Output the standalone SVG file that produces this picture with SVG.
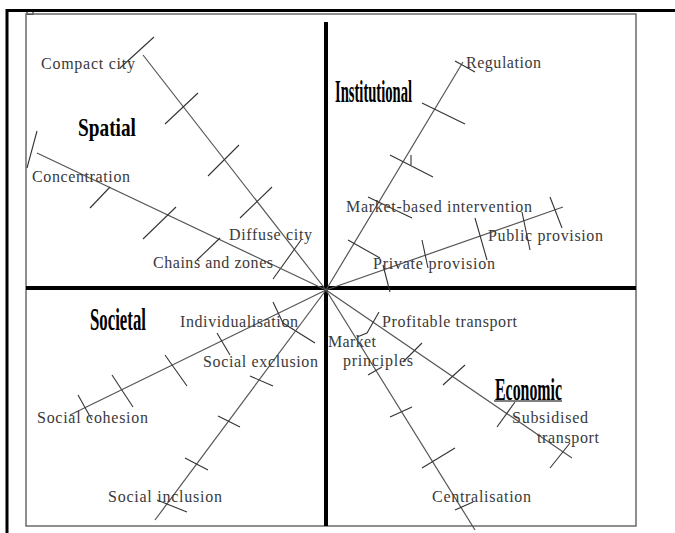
<svg xmlns="http://www.w3.org/2000/svg" width="675" height="533" viewBox="0 0 675 533">
  <style>
    .frame { fill: none; stroke: #000; stroke-width: 3; }
    .box { fill: none; stroke: #6a6a6a; stroke-width: 1.5; }
    .axis { stroke: #000; stroke-width: 4; fill: none; }
    .ray { stroke: #555; stroke-width: 1.2; fill: none; }
    .tick { stroke: #333; stroke-width: 1.1; fill: none; }
    .lbl { font-family: "Liberation Serif", "Times New Roman", serif; font-size: 16px; fill: #3a3a3a; }
    .cat { font-family: "Liberation Serif", "Times New Roman", serif; font-weight: bold; fill: #000; }
  </style>

  <rect width="675" height="533" fill="#fff"/>

  <!-- outer frame -->
  <g id="frame">
    <polyline class="frame" points="7,533 7,10.5 675,10.5"/>
    <rect x="27" y="11" width="6" height="3.5" fill="none" stroke="#000" stroke-width="1"/>
    <rect class="box" x="26" y="14" width="610" height="512"/>
  </g>

  <!-- quadrant axes -->
  <g id="axes">
    <line class="axis" x1="326" y1="22" x2="326" y2="526"/>
    <line class="axis" x1="26" y1="288" x2="636" y2="288"/>
  </g>

  <!-- scale rays with tick marks -->
  <g id="connectors">
    <!-- Compact city -->
    <line class="ray" x1="326" y1="290" x2="143" y2="55"/>
    <line class="tick" x1="120" y1="68" x2="154" y2="37"/>
    <line class="tick" x1="165" y1="124" x2="198" y2="93"/>
    <line class="tick" x1="208" y1="176" x2="239" y2="145"/>
    <line class="tick" x1="240" y1="218" x2="272" y2="187"/>
    <line class="tick" x1="273" y1="279" x2="301" y2="240"/>

    <!-- Concentration -->
    <line class="ray" x1="326" y1="290" x2="37" y2="153"/>
    <line class="tick" x1="37" y1="131" x2="27" y2="168"/>
    <line class="tick" x1="90" y1="208" x2="110" y2="187"/>
    <line class="tick" x1="143" y1="239" x2="176" y2="207"/>
    <line class="tick" x1="197" y1="260" x2="220" y2="238"/>

    <!-- Regulation -->
    <line class="ray" x1="326" y1="290" x2="463" y2="62"/>
    <line class="tick" x1="455" y1="61" x2="475" y2="72"/>
    <line class="tick" x1="422" y1="103" x2="465" y2="124"/>
    <line class="tick" x1="390" y1="155" x2="433" y2="177"/>
    <line class="tick" x1="411" y1="155" x2="411" y2="165"/>
    <line class="tick" x1="368" y1="197" x2="412" y2="218"/>
    <line class="tick" x1="348" y1="240" x2="380" y2="258"/>

    <!-- Public provision -->
    <line class="ray" x1="326" y1="290" x2="563" y2="207"/>
    <line class="tick" x1="550" y1="197" x2="562" y2="228"/>
    <line class="tick" x1="522" y1="212" x2="530" y2="250"/>
    <line class="tick" x1="475" y1="218" x2="487" y2="260"/>
    <line class="tick" x1="422" y1="240" x2="428" y2="268"/>
    <line class="tick" x1="383" y1="265" x2="390" y2="292"/>

    <!-- Social cohesion -->
    <line class="ray" x1="326" y1="290" x2="70" y2="415"/>
    <line class="tick" x1="78" y1="395" x2="92" y2="420"/>
    <line class="tick" x1="112" y1="375" x2="133" y2="407"/>
    <line class="tick" x1="165" y1="355" x2="187" y2="386"/>
    <line class="tick" x1="217" y1="333" x2="230" y2="355"/>
    <polyline class="tick" points="273,302 283,323 315,343"/>

    <!-- Social inclusion -->
    <line class="ray" x1="326" y1="290" x2="155" y2="520"/>
    <line class="tick" x1="157" y1="500" x2="187" y2="512"/>
    <line class="tick" x1="185" y1="458" x2="208" y2="470"/>
    <line class="tick" x1="218" y1="416" x2="240" y2="427"/>
    <line class="tick" x1="250" y1="376" x2="273" y2="386"/>

    <!-- Subsidised transport -->
    <line class="ray" x1="326" y1="290" x2="572" y2="458"/>
    <polyline class="tick" points="379,312 367,333 357,337"/>
    <line class="tick" x1="403" y1="362" x2="422" y2="343"/>
    <line class="tick" x1="443" y1="385" x2="465" y2="365"/>
    <line class="tick" x1="497" y1="427" x2="515" y2="402"/>
    <line class="tick" x1="550" y1="468" x2="570" y2="443"/>

    <!-- Centralisation -->
    <line class="ray" x1="326" y1="290" x2="475" y2="530"/>
    <line class="tick" x1="368" y1="375" x2="382" y2="367"/>
    <line class="tick" x1="390" y1="417" x2="412" y2="407"/>
    <line class="tick" x1="422" y1="468" x2="455" y2="448"/>
    <line class="tick" x1="455" y1="510" x2="473" y2="502"/>
  </g>

  <!-- quadrant titles: tall, narrow bold type -->
  <g id="quadrant-spatial" transform="translate(78,136) scale(0.77,1)">
    <text class="cat" x="0" y="0" font-size="25" textLength="75.3" lengthAdjust="spacingAndGlyphs">Spatial</text>
  </g>
  <g id="quadrant-institutional" transform="translate(335,102) scale(0.456,1)">
    <text class="cat" x="0" y="0" font-size="32" textLength="168.9" lengthAdjust="spacingAndGlyphs">Institutional</text>
  </g>
  <g id="quadrant-societal" transform="translate(90,330) scale(0.54,1)">
    <text class="cat" x="0" y="0" font-size="31" textLength="103.7" lengthAdjust="spacingAndGlyphs">Societal</text>
  </g>
  <g id="quadrant-economic">
    <g transform="translate(495,400) scale(0.496,1)">
      <text class="cat" x="0" y="0" font-size="32" textLength="135.1" lengthAdjust="spacingAndGlyphs">Economic</text>
    </g>
    <line x1="494" y1="401" x2="562" y2="401" stroke="#000" stroke-width="1.2"/>
  </g>

  <!-- scale end labels -->
  <g id="label-compact-city"><text class="lbl" x="41" y="69" textLength="94">Compact city</text></g>
  <g id="label-concentration"><text class="lbl" x="32" y="182" textLength="98">Concentration</text></g>
  <g id="label-diffuse-city"><text class="lbl" x="229" y="240" textLength="83">Diffuse city</text></g>
  <g id="label-chains-zones"><text class="lbl" x="153" y="268" textLength="120">Chains and zones</text></g>
  <g id="label-regulation"><text class="lbl" x="466" y="68" textLength="75">Regulation</text></g>
  <g id="label-market-based"><text class="lbl" x="346" y="212" textLength="186">Market-based intervention</text></g>
  <g id="label-public-provision"><text class="lbl" x="488" y="241" textLength="115">Public provision</text></g>
  <g id="label-private-provision"><text class="lbl" x="373" y="269" textLength="122">Private provision</text></g>
  <g id="label-individualisation"><text class="lbl" x="180" y="327" textLength="118">Individualisation</text></g>
  <g id="label-social-exclusion"><text class="lbl" x="203" y="367" textLength="115">Social exclusion</text></g>
  <g id="label-social-cohesion"><text class="lbl" x="37" y="423" textLength="111">Social cohesion</text></g>
  <g id="label-social-inclusion"><text class="lbl" x="108" y="502" textLength="114">Social inclusion</text></g>
  <g id="label-market-principles">
    <text class="lbl" x="328" y="347" textLength="48">Market</text>
    <text class="lbl" x="343" y="366" textLength="70">principles</text>
  </g>
  <g id="label-profitable-transport"><text class="lbl" x="382" y="327" textLength="135">Profitable transport</text></g>
  <g id="label-subsidised-transport">
    <text class="lbl" x="512" y="423" textLength="76">Subsidised</text>
    <text class="lbl" x="537" y="443" textLength="62">transport</text>
  </g>
  <g id="label-centralisation"><text class="lbl" x="432" y="502" textLength="99">Centralisation</text></g>
</svg>
